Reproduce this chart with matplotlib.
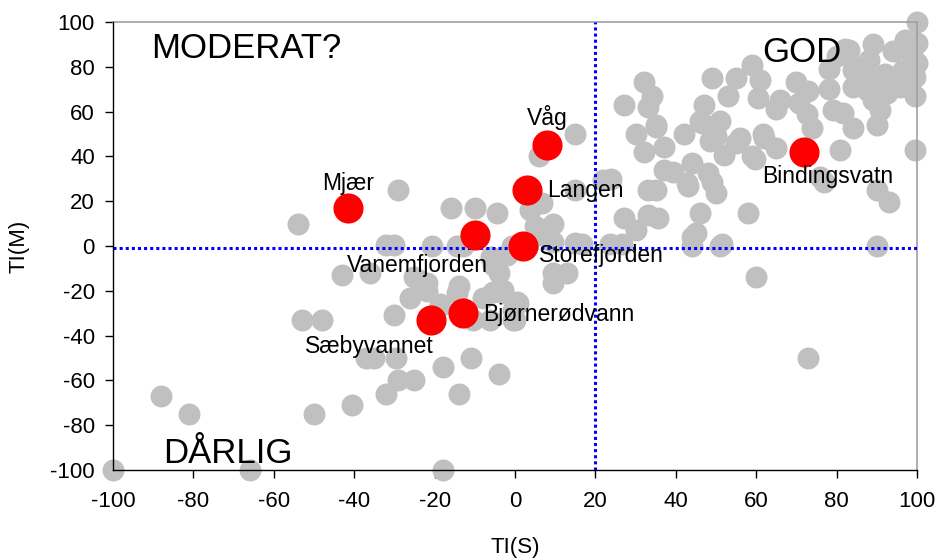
import matplotlib
matplotlib.use("Agg")
import matplotlib.pyplot as plt

plt.rcParams['font.family'] = ['Liberation Sans', 'DejaVu Sans']
plt.rcParams['axes.unicode_minus'] = False

# grey: all lakes, TI(S) vs TI(M)
grey_x = [-100, -88, -81, -66, -18,
          -54, -53, -48, -50, -40.5, -32, -29, -25, -37, -35, -29.6, -18, -14, -11, -4,
          -30, -26, -22, -18.7, -14.4, -8, -3, 0.7, -10.4, -6.2, -0.5,
          -29, -16, -32, -30, -20.6, -43, -36, -24, -22, -25, -14, -5.5, -4, -5.5, -14.4,
          -18.7, -0.5, -13, -0.7, -6, -2, 6,
          15, 6, -10, -4.5, 4, 6.7, 3.7, 5, 9.5, 15, 22, 9.5, 15, 16.7, 23.6, 26.6, 30,
          44, 44, 51, 90, 60, 73, 9.5, 13, 9.5, 0.5, 0, -3,
          30, 35, 32, 37, 42, 46.5, 50, 55, 52, 59, 37, 39.3, 44, 48, 49, 50, 43, 33, 35,
          24, 27, 33, 35.6, 46, 58, 45, 51.5,
          27, 32, 34, 33, 35, 49, 47, 46, 51, 53, 55, 59, 61, 60.5, 61.7, 56,
          100, 100, 97, 99.5, 99.5, 83, 89, 88, 84, 78, 70, 73, 78, 70.6, 72.6, 74, 79,
          81.6, 84, 90, 90.8, 92.5, 87.6, 80.8, 76, 93, 90, 65, 48.5, 59.7, 62, 65, 42.8,
          97.8, 99, 96.5, 100, 99.5, 95, 95.8, 86.6, 90, 84, 89, 92, 77, 66, 82, 86, 94, 80]
grey_y = [-100, -67, -75, -100, -100,
          10, -33, -33, -75, -71, -66, -60, -60, -50, -50, -50, -54, -66, -50, -57,
          -31, -23, -20, -26, -21, -23, -21, -25.5, -33, -33, -33,
          25, 17, 0.5, 0.5, 0, -13, -12, -15, -16.5, -14, -18, -20.5, -12, -8.5, 0,
          -27, -28.5, 0, 0, -5, -4, 5,
          50, 40, 17, 14.7, 20.5, 19, 16, 9, 10, 25, 29.5, 2, 1.5, 1, 1, 1, 7,
          4, 0, 0, 0, -14, -50, -12, -12, -16.5, -25, -33, -19.6,
          50, 53, 42, 44, 50, 55, 49, 46, 40.6, 40, 34, 33, 37, 32.6, 28.6, 23.7, 27, 25, 25,
          30, 12.5, 14, 12.5, 14.7, 14.7, 6, 1,
          63, 73, 67, 62, 54, 75, 63, 56, 56, 67, 75, 81, 74, 66, 50, 48,
          100, 90.6, 92, 67, 43, 87.5, 90, 83, 78.6, 79, 73, 69, 70, 64, 59, 52.7, 60.7,
          59.4, 52.7, 54, 60.7, 68.3, 69.6, 43, 31, 19.6, 25, 61, 47, 39, 48, 43.7, 28,
          87.5, 84, 78.6, 81.7, 75.5, 75.5, 71, 75.5, 74, 71, 65, 77, 28.6, 65, 88, 80, 87, 85]

# highlighted lakes
lakes = ['Mjær', 'Våg', 'Langen', 'Vanemfjorden', 'Storefjorden',
         'Bjørnerødvann', 'Sæbyvannet', 'Bindingsvatn']
lake_x = [-41.5, 8, 3, -10, 2, -13, -21, 72]
lake_y = [17, 45, 25, 5, 0, -30, -33, 42]

ticks = list(range(-100, 101, 20))

fig = plt.figure(figsize=(9.37, 5.6), dpi=100)
ax = fig.add_axes([0.1206, 0.1607, 0.858, 0.80])

ax.scatter(grey_x, grey_y, s=250, color='#c0c0c0', linewidths=0, zorder=2, clip_on=False)
ax.axhline(-1, color='#0000ff', lw=2.2, ls=(0, (1, 1)), zorder=3)
ax.axvline(20, color='#0000ff', lw=2.2, ls=(0, (1, 1)), zorder=3)
ax.scatter(lake_x, lake_y, s=470, color='#ff0000', linewidths=0, zorder=4, clip_on=False)

# lake labels
lab = dict(fontsize=16.5, zorder=5)
ax.text(lake_x[0], 25, lakes[0], ha='center', va='baseline', **lab)
ax.text(lake_x[1], 54, lakes[1], ha='center', va='baseline', **lab)
ax.text(8, 22, lakes[2], ha='left', va='baseline', **lab)
ax.text(-24.3, -11.6, lakes[3], ha='center', va='baseline', **lab)
ax.text(6, -7, lakes[4], ha='left', va='baseline', **lab)
ax.text(-8, -33.5, lakes[5], ha='left', va='baseline', **lab)
ax.text(-36.3, -47.8, lakes[6], ha='center', va='baseline', **lab)
ax.text(77.9, 28, lakes[7], ha='center', va='baseline', **lab)

# quadrant labels
ax.text(-90.5, 84, 'MODERAT?', fontsize=25, va='baseline', zorder=5)
ax.text(61.4, 82, 'GOD', fontsize=25, va='baseline', zorder=5)
ax.text(-87.6, -97, 'DÅRLIG', fontsize=25, va='baseline', zorder=5)

ax.set_xlim(-100, 100)
ax.set_ylim(-100, 100)
ax.set_xticks(ticks)
ax.set_yticks(ticks)
ax.tick_params(direction='out', length=6, width=1, labelsize=16)
ax.tick_params(axis='x', pad=9)
ax.tick_params(axis='y', pad=7)
ax.set_xlabel('TI(S)', fontsize=16, labelpad=18)
ax.set_ylabel('TI(M)', fontsize=16, labelpad=15)

for side in ['top', 'right']:
    ax.spines[side].set_color('#a0a0a0')
    ax.spines[side].set_linewidth(1.2)
for side in ['left', 'bottom']:
    ax.spines[side].set_color('black')
    ax.spines[side].set_linewidth(1)
    ax.spines[side].set_zorder(6)

fig.savefig('out.png', dpi=100)
